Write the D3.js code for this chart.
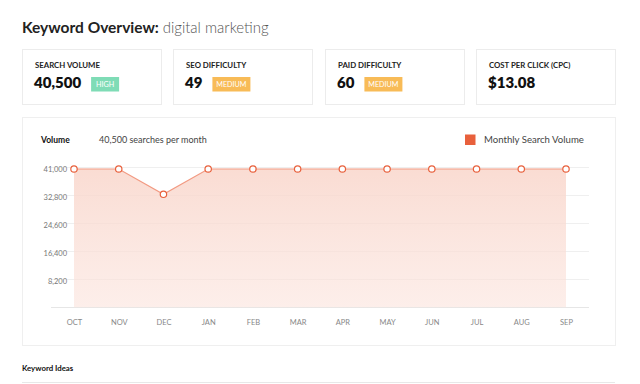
<!DOCTYPE html>
<html>
<head>
<meta charset="utf-8">
<script src="https://cdn.jsdelivr.net/npm/d3@7"></script>
<style>
  body { margin: 0; background: #fff; }
  svg { display: block; font-family: Lato, "Open Sans", sans-serif; }
</style>
</head>
<body>
<svg id="chart"></svg>
<script>
var months = ["OCT", "NOV", "DEC", "JAN", "FEB", "MAR", "APR", "MAY", "JUN", "JUL", "AUG", "SEP"];
var volume = [40500, 40500, 33100, 40500, 40500, 40500, 40500, 40500, 40500, 40500, 40500, 40500];
var yTicks = [8200, 16400, 24600, 32800, 41000];

var cardLabels = ["SEARCH VOLUME", "SEO DIFFICULTY", "PAID DIFFICULTY", "COST PER CLICK (CPC)"];
var cardValues = ["40,500", "49", "60", "$13.08"];
var cardBadges = ["HIGH", "MEDIUM", "MEDIUM", null];
var badgeColors = { "HIGH": "#7fdcb6", "MEDIUM": "#f8bb57" };

var width = 640, height = 384;

var svg = d3.select('#chart')
    .attr("width", width)
    .attr("height", height);

// title
var title = svg.append("text")
    .attr("x", 22)
    .attr("y", 33)
    .attr("font-size", 15.5)
    .attr("fill", "#222");
title.append("tspan").attr("font-weight", 700).text("Keyword Overview: ");
title.append("tspan").attr("font-weight", 300).attr("font-size", 15).attr("fill", "#555").text("digital marketing");

// metric cards
var cardX = [22, 173, 325, 476], cardW = 139, cardY = 49, cardH = 55;

var cards = svg.selectAll("g.card")
    .data(cardLabels)
    .enter()
    .append("g")
    .attr("class", "card")
    .attr("transform", function (d, i) { return "translate(" + cardX[i] + "," + cardY + ")"; });

cards.append("rect")
    .attr("x", 0.5).attr("y", 0.5)
    .attr("width", cardW).attr("height", cardH)
    .attr("fill", "#fff")
    .attr("stroke", "#ececec");

cards.append("text")
    .attr("x", 13).attr("y", 19)
    .attr("font-size", 7.8)
    .attr("font-weight", 700)
    .attr("fill", "#222")
    .text(function (d) { return d; });

cards.append("text")
    .attr("class", "val")
    .attr("x", 12).attr("y", 39)
    .attr("font-size", 15)
    .attr("font-weight", 800)
    .attr("fill", "#111")
    .text(function (d, i) { return cardValues[i]; });

cards.each(function (d, i) {
    var b = cardBadges[i];
    if (!b) return;
    var g = d3.select(this);
    var vw = g.select("text.val").node().getComputedTextLength();
    var bx = 12 + vw + 10;
    var bw = b === "HIGH" ? 28 : 38;
    g.append("rect")
        .attr("x", bx).attr("y", 28)
        .attr("width", bw).attr("height", 14.5)
        .attr("fill", badgeColors[b]);
    g.append("text")
        .attr("x", bx + bw / 2).attr("y", 38)
        .attr("text-anchor", "middle")
        .attr("font-size", 7.2)
        .attr("fill", "#fff")
        .text(b);
});

// chart panel
svg.append("rect")
    .attr("x", 22.5).attr("y", 117.5)
    .attr("width", 593).attr("height", 228)
    .attr("fill", "#fff")
    .attr("stroke", "#efefef");

svg.append("text")
    .attr("x", 41).attr("y", 143)
    .attr("font-size", 8.5).attr("font-weight", 700).attr("fill", "#111")
    .text("Volume");

svg.append("text")
    .attr("x", 99).attr("y", 143)
    .attr("font-size", 9).attr("fill", "#444")
    .text("40,500 searches per month");

svg.append("rect")
    .attr("x", 465).attr("y", 134.5)
    .attr("width", 10.5).attr("height", 10.5)
    .attr("fill", "#e8603c");

svg.append("text")
    .attr("x", 484).attr("y", 143)
    .attr("font-size", 9.6).attr("fill", "#444")
    .text("Monthly Search Volume");

// scales
var xScale = d3.scalePoint()
    .domain(months)
    .range([74, 566]);

var yScale = d3.scaleLinear()
    .domain([0, 41000])
    .range([307.3, 167.3]);

// gridlines
svg.append("g")
    .selectAll("line")
    .data([0].concat(yTicks))
    .enter()
    .append("line")
    .attr("x1", 51).attr("x2", 589)
    .attr("y1", function (d) { return Math.round(yScale(d)) + 0.5; })
    .attr("y2", function (d) { return Math.round(yScale(d)) + 0.5; })
    .attr("stroke", function (d) { return d === 0 ? "#e6e6e6" : "#efefef"; });

// gradient fill
var defs = svg.append("defs");
var grad = defs.append("linearGradient")
    .attr("id", "areaGrad")
    .attr("x1", 0).attr("y1", 0).attr("x2", 0).attr("y2", 1);
grad.append("stop").attr("offset", "0%").attr("stop-color", "#f9d6cb").attr("stop-opacity", 0.85);
grad.append("stop").attr("offset", "100%").attr("stop-color", "#fbe3dc").attr("stop-opacity", 0.6);

var area = d3.area()
    .x(function (d, i) { return xScale(months[i]); })
    .y0(yScale(0))
    .y1(function (d) { return yScale(d); });

svg.append("path")
    .datum(volume)
    .attr("d", area)
    .attr("fill", "url(#areaGrad)");

var line = d3.line()
    .x(function (d, i) { return xScale(months[i]); })
    .y(function (d) { return yScale(d); });

svg.append("path")
    .datum(volume)
    .attr("d", line)
    .attr("fill", "none")
    .attr("stroke", "#f29a82")
    .attr("stroke-width", 1.2);

svg.append("g")
    .selectAll("circle")
    .data(volume)
    .enter()
    .append("circle")
    .attr("cx", function (d, i) { return xScale(months[i]); })
    .attr("cy", function (d) { return yScale(d); })
    .attr("r", 3.2)
    .attr("fill", "#fff")
    .attr("stroke", "#e8603c")
    .attr("stroke-width", 1.2);

// y axis labels
var yAxis = d3.axisLeft(yScale)
    .tickValues(yTicks)
    .tickSize(0)
    .tickPadding(0)
    .tickFormat(d3.format(","));

var yg = svg.append("g")
    .attr("transform", "translate(67,2)")
    .call(yAxis);
yg.select(".domain").remove();
yg.selectAll("text")
    .attr("font-family", "Lato, sans-serif")
    .attr("font-size", 7.5)
    .attr("fill", "#777");

// x axis labels
var xAxis = d3.axisBottom(xScale)
    .tickSize(0)
    .tickPadding(0);

var xg = svg.append("g")
    .attr("transform", "translate(0,320)")
    .call(xAxis);
xg.select(".domain").remove();
xg.selectAll("text")
    .attr("font-family", "Lato, sans-serif")
    .attr("font-size", 7.5)
    .attr("fill", "#888");

// keyword ideas
svg.append("text")
    .attr("x", 22).attr("y", 371)
    .attr("font-size", 7.8).attr("font-weight", 700).attr("fill", "#111")
    .text("Keyword Ideas");

svg.append("line")
    .attr("x1", 22).attr("x2", 615)
    .attr("y1", 382.5).attr("y2", 382.5)
    .attr("stroke", "#e8e8e8");
</script>
</body>
</html>
